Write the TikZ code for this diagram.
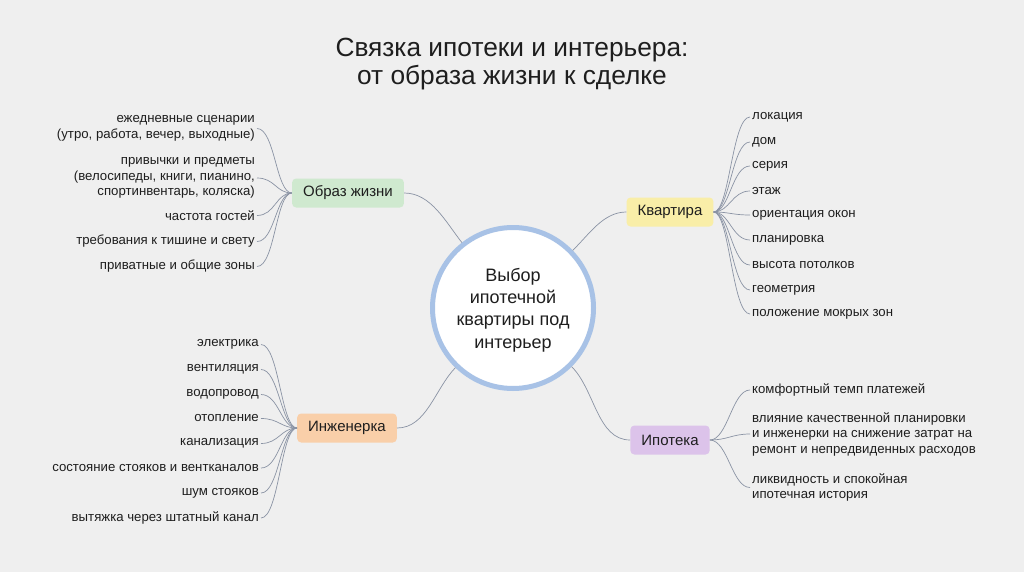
\documentclass[tikz,border=0pt]{standalone}
\usepackage{fontspec}
\setmainfont{Liberation Sans}
\definecolor{bgc}{HTML}{EFEFEF}
\definecolor{linec}{HTML}{8A93A4}
\definecolor{txt}{HTML}{1E1E1E}
\definecolor{ring}{HTML}{A8C2E6}
\definecolor{cgreen}{HTML}{CFE9CF}
\definecolor{cyellow}{HTML}{F9EEA8}
\definecolor{corange}{HTML}{F9CFA9}
\definecolor{cpurple}{HTML}{DCC3EA}
\begin{document}
\begin{tikzpicture}[x=1pt,y=1pt,
  conn/.style={draw=linec, line width=0.7pt},
  leafL/.style={anchor=east, align=right, inner sep=2pt, text=txt, font=\fontsize{13.2}{15.5}\selectfont},
  leafR/.style={anchor=west, align=left, inner sep=2pt, text=txt, font=\fontsize{13.2}{15.5}\selectfont},
  branch/.style={rounded corners=4pt, minimum height=29pt, inner xsep=11pt, text=txt, font=\fontsize{15}{17}\selectfont}
]
\fill[bgc] (0,0) rectangle (1024,-572);
\useasboundingbox (0,0) rectangle (1024,-572);

% title
\node[text=txt, align=center, font=\fontsize{26.3}{28.5}\selectfont] (title) at (512,-64) {Связка ипотеки и интерьера:\\от образа жизни к сделке};

% centre
\node[circle, draw=ring, line width=5pt, fill=white, minimum size=161pt] (c) at (513,-308) {};
\node[text=txt, align=center, font=\fontsize{18}{22.3}\selectfont] (ct) at (513,-310) {Выбор\\ипотечной\\квартиры под\\интерьер};

% branches
\node[branch, fill=cgreen] (ob) at (348,-193) {Образ жизни};
\node[branch, fill=cyellow] (kv) at (670,-212) {Квартира};
\node[branch, fill=corange] (in) at (347,-428) {Инженерка};
\node[branch, fill=cpurple] (ip) at (670,-440) {Ипотека};

\draw[conn] (ob.east) to[out=0, in=128, looseness=0.9] (c.128);
\draw[conn] (kv.west) to[out=180, in=44, looseness=0.9] (c.44);
\draw[conn] (in.east) to[out=0, in=226, looseness=0.9] (c.226);
\draw[conn] (ip.west) to[out=180, in=315, looseness=0.9] (c.315);

% Образ жизни leaves
\node[leafL] (o1) at (257,-128.5) {ежедневные сценарии\\(утро, работа, вечер, выходные)};
\node[leafL] (o2) at (257,-178) {привычки и предметы\\(велосипеды, книги, пианино,\\спортинвентарь, коляска)};
\node[leafL] (o3) at (257,-215.5) {частота гостей};
\node[leafL] (o4) at (257,-241.5) {требования к тишине и свету};
\node[leafL] (o5) at (257,-266.5) {приватные и общие зоны};
\foreach \n in {o1,o2,o3,o4,o5}
  \draw[conn] (\n.east) .. controls +(18,0) and +(-16,0) .. (ob.west);

% Инженерка leaves
\node[leafL] (e1) at (261,-344.5) {электрика};
\node[leafL] (e2) at (261,-369.5) {вентиляция};
\node[leafL] (e3) at (261,-394.5) {водопровод};
\node[leafL] (e4) at (261,-418.5) {отопление};
\node[leafL] (e5) at (261,-443.5) {канализация};
\node[leafL] (e6) at (261,-468) {состояние стояков и вентканалов};
\node[leafL] (e7) at (261,-493) {шум стояков};
\node[leafL] (e8) at (261,-518) {вытяжка через штатный канал};
\foreach \n in {e1,e2,e3,e4,e5,e6,e7,e8}
  \draw[conn] (\n.east) .. controls +(18,0) and +(-16,0) .. (in.west);

% Квартира leaves
\node[leafR] (k1) at (750,-117) {локация};
\node[leafR] (k2) at (750,-142) {дом};
\node[leafR] (k3) at (750,-166) {серия};
\node[leafR] (k4) at (750,-191) {этаж};
\node[leafR] (k5) at (750,-215) {ориентация окон};
\node[leafR] (k6) at (750,-240) {планировка};
\node[leafR] (k7) at (750,-265) {высота потолков};
\node[leafR] (k8) at (750,-290) {геометрия};
\node[leafR] (k9) at (750,-314) {положение мокрых зон};
\foreach \n in {k1,k2,k3,k4,k5,k6,k7,k8,k9}
  \draw[conn] (kv.east) .. controls +(16,0) and +(-18,0) .. (\n.west);

% Ипотека leaves
\node[leafR] (p1) at (750,-390) {комфортный темп платежей};
\node[leafR] (p2) at (750,-434) {влияние качественной планировки\\и инженерки на снижение затрат на\\ремонт и непредвиденных расходов};
\node[leafR] (p3) at (750,-487.5) {ликвидность и спокойная\\ипотечная история};
\foreach \n in {p1,p2,p3}
  \draw[conn] (ip.east) .. controls +(18,0) and +(-18,0) .. (\n.west);
\end{tikzpicture}
\end{document}
